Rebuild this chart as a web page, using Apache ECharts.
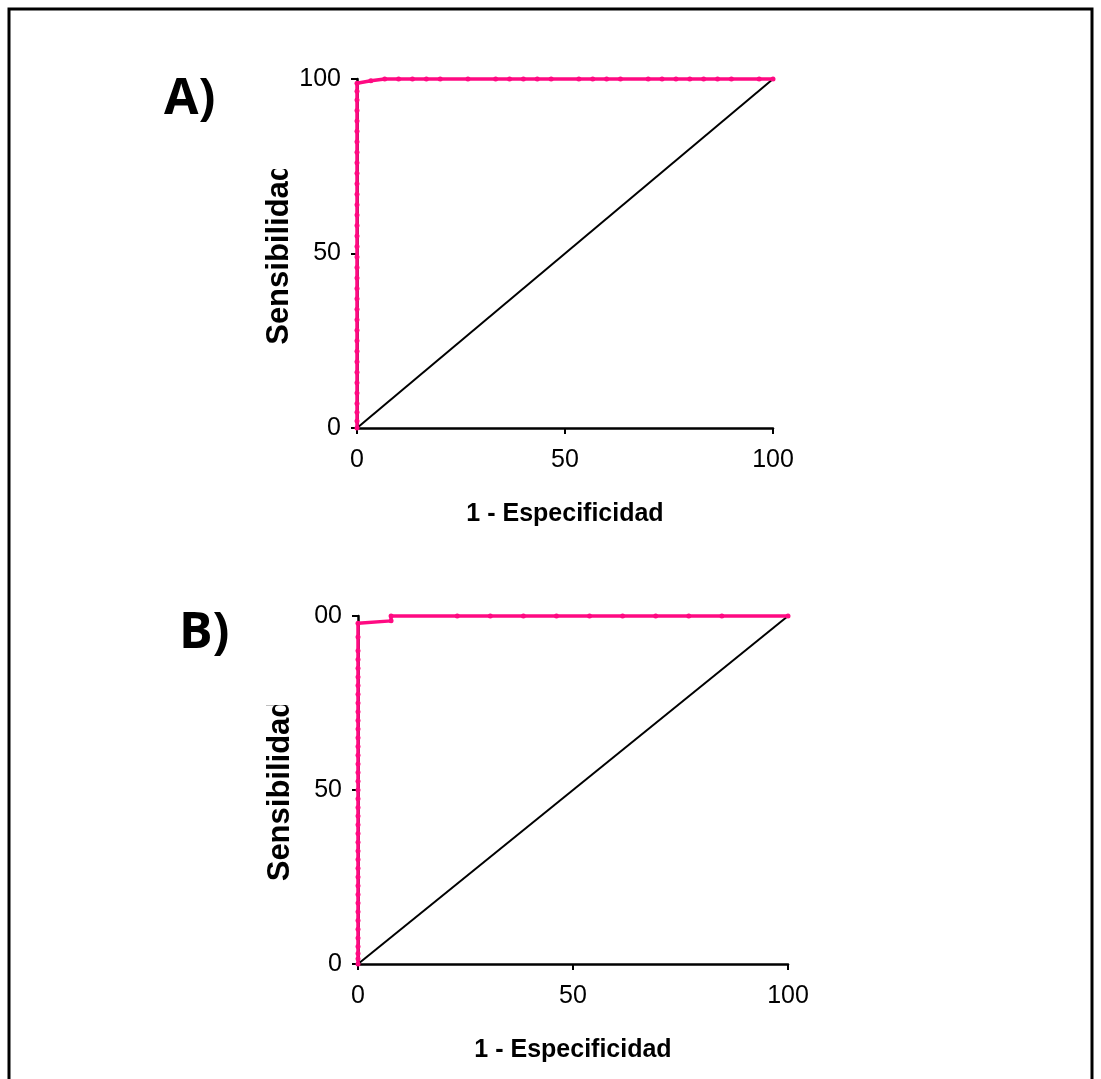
<!DOCTYPE html>
<html>
<head>
<meta charset="utf-8">
<script src="https://cdn.jsdelivr.net/npm/echarts@6/dist/echarts.min.js"></script>
<style>
html,body{margin:0;padding:0;background:#fff;}
#c{width:1101px;height:1079px;}
</style>
</head>
<body>
<div id="c"></div>
<script>
// ---- data ----
var xTicks = [0, 50, 100];
var yTicks = [0, 50, 100];

// Panel A ROC curve: 1 - specificity (x) and sensitivity (y)
var rocA_x = [0,0,0,0,0,0,0,0,0,0,0,0,0,0,0,0,0,0,0,0,0,0,0,0,0,0,0,0,0,0,0,0,0,0,0,
  3.33,6.67,10,13.33,16.67,20,26.67,33.33,36.67,40,43.33,46.67,53.33,56.67,60,63.33,70,73.33,76.67,80,83.33,86.67,90,96.67,100];
var rocA_y = [0,2,4.5,7,10,13,16,19,22,25,28,31,34,37,40,43,46,49,52,55,58,61,64,67,70,73,76,79,82,85,88,91,94,96.5,98.8,
  99.5,100,100,100,100,100,100,100,100,100,100,100,100,100,100,100,100,100,100,100,100,100,100,100,100];

// Panel B ROC curve
var rocB_x = [0,0,0,0,0,0,0,0,0,0,0,0,0,0,0,0,0,0,0,0,0,0,0,0,0,0,0,0,0,0,0,0,0,0,0,0,0,0,0,0,
  7.69,7.69,23.08,30.77,38.46,46.15,53.85,61.54,69.23,76.92,84.62,100];
var rocB_y = [0,1.5,3,5,7.5,10,12.5,15,17.5,20,22.5,25,27.5,30,32.5,35,37.5,40,42.5,45,47.5,50,52.5,55,57.5,60,62.5,65,67.5,70,72.5,75,77.5,80,82.5,85,87.5,90,94,97.9,
  98.6,100,100,100,100,100,100,100,100,100,100,100];

// Reference diagonal
var diag_x = [0, 100];
var diag_y = [0, 100];

function pairs(xs, ys){ var o=[]; for(var i=0;i<xs.length;i++) o.push([xs[i], ys[i]]); return o; }

var PINK = '#ff0a82';
var FONT = 'Liberation Sans, Arial, sans-serif';

function xAx(gi){
  return {
    gridIndex: gi, type: 'value', min: 0, max: 100, interval: 50,
    axisLine: {onZero:false, lineStyle:{color:'#000', width:2.5}},
    axisTick: {show:true, inside:false, length:6, lineStyle:{color:'#000', width:2}},
    splitLine: {show:false},
    axisLabel: {color:'#000', fontSize:25, fontFamily:FONT, margin:20,
      formatter: function(v){ return xTicks.indexOf(v) >= 0 ? String(v) : ''; }},
    name: '1 - Especificidad', nameLocation: 'middle', nameGap: 74,
    nameTextStyle: {color:'#000', fontSize:25, fontWeight:'bold', fontFamily:FONT}
  };
}
function yAx(gi){
  return {
    gridIndex: gi, type: 'value', min: 0, max: 100, interval: 50,
    axisLine: {onZero:false, lineStyle:{color:'#000', width:2.5}},
    axisTick: {show:true, inside:false, length:6, lineStyle:{color:'#000', width:2}},
    splitLine: {show:false},
    axisLabel: {color:'#000', fontSize:25, fontFamily:FONT, margin:16,
      formatter: function(v){ return yTicks.indexOf(v) >= 0 ? String(v) : ''; }},
    name: 'Sensibilidad', nameLocation: 'middle', nameGap: 60, nameRotate: 90,
    nameTextStyle: {color:'#000', fontSize:31, fontWeight:'bold', fontFamily:FONT}
  };
}
function rocSeries(gi, xs, ys){
  return {
    type:'line', xAxisIndex:gi, yAxisIndex:gi, data: pairs(xs, ys),
    symbol:'circle', symbolSize:5, showSymbol:true, clip:false, z:3,
    lineStyle:{color:PINK, width:3.5}, itemStyle:{color:PINK}
  };
}
function diagSeries(gi){
  return {
    type:'line', xAxisIndex:gi, yAxisIndex:gi, data: pairs(diag_x, diag_y),
    symbol:'none', clip:false, z:2,
    lineStyle:{color:'#000', width:2}
  };
}

var chart = echarts.init(document.getElementById('c'), null, {renderer:'canvas'});
chart.setOption({
  animation: false,
  backgroundColor: '#fff',
  grid: [
    {left:357, top:79, width:416, height:349},
    {left:358, top:616, width:430, height:348}
  ],
  xAxis: [xAx(0), xAx(1)],
  yAxis: [yAx(0), yAx(1)],
  series: [diagSeries(0), rocSeries(0, rocA_x, rocA_y), diagSeries(1), rocSeries(1, rocB_x, rocB_y)],
  graphic: [
    {type:'rect', shape:{x:9, y:9, width:1083, height:1100}, style:{fill:'none', stroke:'#000', lineWidth:3}, z:10},
    {type:'text', left:164, top:75, style:{text:'A)', fill:'#000', font:'bold 50px "Open Sans", sans-serif'}, z:10},
    {type:'text', left:179, top:609, style:{text:'B)', fill:'#000', font:'bold 50px "Open Sans", sans-serif'}, z:10},
    // clipped areas seen in the reference (end of the y-axis titles, "1" of the top tick in B)
    {type:'rect', shape:{x:260, y:130, width:45, height:39}, style:{fill:'#fff'}, z:10},
    {type:'rect', shape:{x:260, y:668, width:45, height:37}, style:{fill:'#fff'}, z:10},
    {type:'rect', shape:{x:288, y:600, width:26, height:34}, style:{fill:'#fff'}, z:10}
  ]
});
</script>
</body>
</html>
